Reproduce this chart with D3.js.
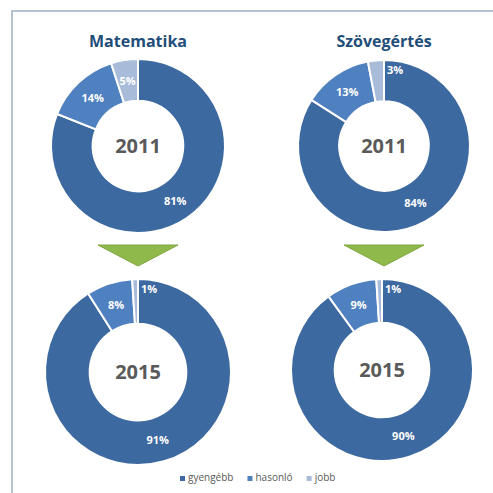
<!DOCTYPE html>
<html>
<head>
<meta charset="utf-8">
<script src="https://cdn.jsdelivr.net/npm/d3@7"></script>
<style>
	body { margin: 0; background: #fff; }
	svg { display: block; font-family: "Open Sans", "DejaVu Sans", sans-serif; }
</style>
</head>
<body>
<div id="chart"></div>
<script>
// chart data
const categories = ["gyengébb", "hasonló", "jobb"]
const subjects = ["Matematika", "Szövegértés"]
const years = ["2011", "2015"]
const math2011 = [81, 14, 5]
const read2011 = [84, 13, 3]
const math2015 = [91, 8, 1]
const read2015 = [90, 9, 1]

const colors = ["#3d69a1", "#4f80c0", "#a8bbd9"]

const width = 493
const height = 493

const svg = d3
	.select("#chart")
	.append("svg")
	.attr("width", width)
	.attr("height", height)

// frame
svg.append("rect")
	.attr("x", 12)
	.attr("y", 11)
	.attr("width", width)
	.attr("height", height)
	.attr("fill", "#fff")
	.attr("stroke", "#b3c3d3")
	.attr("stroke-width", 2)

const pie = d3.pie().sort(null).value((d) => d)

const donuts = [
	{ values: math2011, year: years[0], cx: 138, cy: 146, r: 87 },
	{ values: read2011, year: years[0], cx: 384, cy: 146, r: 86 },
	{ values: math2015, year: years[1], cx: 138, cy: 372, r: 93 },
	{ values: read2015, year: years[1], cx: 382, cy: 370, r: 91 },
]

donuts.forEach((d) => {
	const inner = d.r * 0.52
	const arc = d3.arc().innerRadius(inner).outerRadius(d.r)

	const g = svg.append("g").attr("transform", `translate(${d.cx},${d.cy})`)

	const arcs = pie(d.values)

	g.selectAll("path")
		.data(arcs)
		.join("path")
		.attr("d", arc)
		.attr("fill", (a, i) => colors[i])
		.attr("stroke", "#fff")
		.attr("stroke-width", 2)

	// tiny slices get their label just right of the 12 o'clock edge
	g.selectAll("text.pct")
		.data(arcs)
		.join("text")
		.attr("class", "pct")
		.attr("transform", (a) => {
			if (a.data < 4) return `translate(3,${-d.r + 10})`
			return `translate(${arc.centroid(a)})`
		})
		.attr("text-anchor", (a) => (a.data < 4 ? "start" : "middle"))
		.attr("dy", "0.35em")
		.attr("fill", "#fff")
		.style("font-size", "11px")
		.style("font-weight", "bold")
		.text((a) => `${a.data}%`)

	g.append("text")
		.attr("text-anchor", "middle")
		.attr("dy", "0.36em")
		.attr("fill", "#5a5a5a")
		.style("font-size", "20px")
		.style("font-weight", "bold")
		.text(d.year)
})

// titles
svg.selectAll("text.title")
	.data(subjects)
	.join("text")
	.attr("class", "title")
	.attr("x", (s, i) => donuts[i].cx)
	.attr("y", 47)
	.attr("text-anchor", "middle")
	.attr("fill", "#1f4e79")
	.style("font-size", "16px")
	.style("font-weight", "bold")
	.text((s) => s)

// green arrows between the years
;[donuts[0], donuts[1]].forEach((d) => {
	svg.append("path")
		.attr("d", `M${d.cx - 40},245 L${d.cx + 40},245 L${d.cx},266 Z`)
		.attr("fill", "#8fb94b")
		.attr("stroke", "#7ea53f")
		.attr("stroke-width", 1)
})

// legend
const legend = svg.append("g").attr("transform", "translate(180,481)")
let lx = 0
categories.forEach((c, i) => {
	const item = legend.append("g").attr("transform", `translate(${lx},0)`)
	item.append("rect")
		.attr("x", 0)
		.attr("y", -5)
		.attr("width", 5)
		.attr("height", 5)
		.attr("fill", colors[i])
	const t = item.append("text")
		.attr("x", 8)
		.attr("y", 0)
		.attr("fill", "#595959")
		.style("font-size", "10px")
		.text(c)
	lx += 8 + t.node().getComputedTextLength() + 14
})
</script>
</body>
</html>
